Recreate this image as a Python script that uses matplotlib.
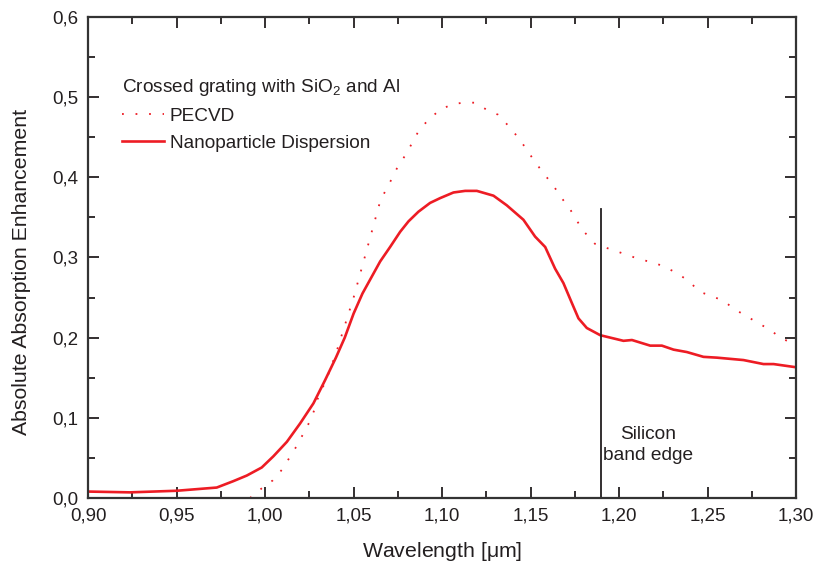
import numpy as np
import matplotlib.pyplot as plt
from matplotlib.ticker import MultipleLocator

plt.rcParams['font.family'] = ['Liberation Sans', 'DejaVu Sans']
plt.rcParams['mathtext.fontset'] = 'custom'
plt.rcParams['mathtext.rm'] = 'Liberation Sans'
plt.rcParams['mathtext.default'] = 'regular'

# PECVD (dotted)
pecvd_x = [0.9915, 0.9981, 1.0044, 1.0098, 1.0137, 1.0179, 1.0213, 1.0249, 1.0277, 1.0296,
           1.035, 1.040, 1.045, 1.050, 1.055, 1.060, 1.0650, 1.0684, 1.0718, 1.0751,
           1.0797, 1.0831, 1.0868, 1.0927, 1.0989, 1.1055, 1.1119, 1.1186, 1.1253, 1.1316,
           1.1379, 1.1435, 1.1479, 1.1525, 1.1576, 1.1627, 1.1672, 1.1723, 1.1757, 1.1802,
           1.1863, 1.1927, 1.1994, 1.2060, 1.2124, 1.2192, 1.2258, 1.2322, 1.2390, 1.2456,
           1.2520, 1.2588, 1.2654, 1.2718, 1.2785, 1.2851, 1.2915, 1.2983, 1.300]
pecvd_y = [0.000, 0.012, 0.022, 0.036, 0.050, 0.065, 0.079, 0.094, 0.109, 0.123,
           0.150, 0.180, 0.215, 0.250, 0.290, 0.330, 0.370, 0.385, 0.399, 0.414,
           0.429, 0.443, 0.458, 0.473, 0.484, 0.491, 0.493, 0.493, 0.484, 0.478,
           0.463, 0.448, 0.434, 0.419, 0.404, 0.390, 0.375, 0.360, 0.347, 0.332,
           0.317, 0.312, 0.307, 0.302, 0.297, 0.294, 0.288, 0.281, 0.271, 0.257,
           0.252, 0.246, 0.235, 0.227, 0.218, 0.210, 0.199, 0.193, 0.191]

# Nanoparticle dispersion (solid)
nano_x = [0.900, 0.9237, 0.9501, 0.9727, 0.9821, 0.9897, 0.9981, 1.0047, 1.0123, 1.0198,
          1.0273, 1.0339, 1.040, 1.045, 1.050, 1.055, 1.060, 1.065, 1.0706, 1.0763,
          1.081, 1.0866, 1.0932, 1.0989, 1.1064, 1.113, 1.1196, 1.129, 1.1365, 1.1459,
          1.1525, 1.1582, 1.1638, 1.1685, 1.1733, 1.177, 1.1817, 1.1893, 1.2024, 1.2072,
          1.2175, 1.2241, 1.2307, 1.2382, 1.2476, 1.2552, 1.2702, 1.2815, 1.2872, 1.300]
nano_y = [0.008, 0.007, 0.009, 0.013, 0.021, 0.028, 0.038, 0.052, 0.070, 0.093,
          0.118, 0.147, 0.175, 0.200, 0.230, 0.255, 0.275, 0.295, 0.313, 0.332,
          0.345, 0.357, 0.368, 0.374, 0.381, 0.383, 0.383, 0.377, 0.365, 0.347,
          0.326, 0.313, 0.286, 0.268, 0.243, 0.224, 0.212, 0.203, 0.196, 0.197,
          0.190, 0.190, 0.185, 0.182, 0.176, 0.175, 0.172, 0.167, 0.167, 0.163]

band_edge = 1.19
band_top = 0.36

red = '#ED1C24'
ink = '#231F20'

fig = plt.figure(figsize=(8.15, 5.63), dpi=100)
ax = fig.add_axes([0.108, 0.1155, 0.869, 0.8545])

ax.plot(pecvd_x, pecvd_y, color=red, lw=1.3, linestyle=(0, (1, 6.5)), label='PECVD')
ax.plot(nano_x, nano_y, color=red, lw=1.9, label='Nanoparticle Dispersion')
ax.plot([band_edge, band_edge], [0, band_top], color=ink, lw=1.3)
ax.text(1.2165, 0.066, 'Silicon\nband edge', ha='center', va='center',
        multialignment='center', fontsize=13.8, color=ink, linespacing=1.3)

ax.set_xlim(0.90, 1.30)
ax.set_ylim(0.0, 0.6)
ax.xaxis.set_major_locator(MultipleLocator(0.05))
ax.xaxis.set_minor_locator(MultipleLocator(0.025))
ax.yaxis.set_major_locator(MultipleLocator(0.1))
ax.yaxis.set_minor_locator(MultipleLocator(0.05))
ax.xaxis.set_major_formatter(lambda v, p: f'{v:.2f}'.replace('.', ','))
ax.yaxis.set_major_formatter(lambda v, p: f'{v:.1f}'.replace('.', ','))
ax.tick_params(which='both', direction='in', top=True, right=True, color=ink,
               width=1.3, labelsize=13.5, labelcolor=ink, pad=7)
ax.tick_params(which='major', length=8)
ax.tick_params(which='minor', length=5)
for s in ax.spines.values():
    s.set_color('#333333')
    s.set_linewidth(1.6)

ax.set_xlabel('Wavelength [$\\mu$m]', fontsize=15.3, color=ink)
ax.xaxis.set_label_coords(0.5, -0.088)
ax.set_ylabel('Absolute Absorption Enhancement', fontsize=15.3, color=ink)
ax.yaxis.set_label_coords(-0.081, 0.469)

leg = ax.legend(title='Crossed grating with SiO$_2$ and Al', loc='upper left',
                bbox_to_anchor=(0.0485, 0.875), frameon=False, fontsize=13.7,
                title_fontsize=13.7, alignment='left', handlelength=2.2,
                handletextpad=0.3, labelspacing=0.5, borderpad=0, borderaxespad=0)
for t in leg.get_texts():
    t.set_color(ink)
leg.get_title().set_color(ink)

fig.savefig('out.png', dpi=100)
